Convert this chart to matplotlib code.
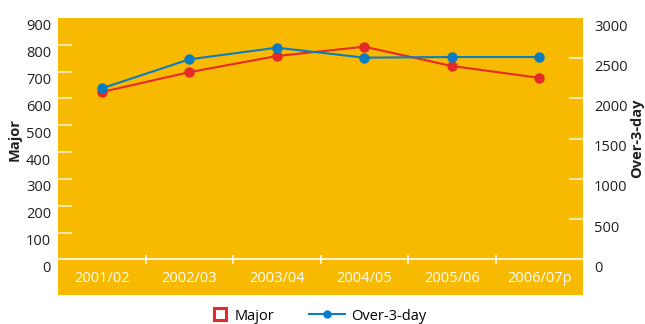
import matplotlib
matplotlib.use("Agg")
import matplotlib.pyplot as plt
from matplotlib.transforms import ScaledTranslation
from matplotlib.lines import Line2D

# Reporting years and injury counts
years = ["2001/02", "2002/03", "2003/04", "2004/05", "2005/06", "2006/07p"]
major = [624, 698, 758, 793, 721, 677]
over3day = [2125, 2486, 2631, 2507, 2515, 2515]

left_ticks = list(range(0, 1000, 100))
right_ticks = list(range(0, 3500, 500))

ORANGE = "#F8BA00"
RED = "#E52A2A"
BLUE = "#0A7CC1"
INK = "#231F20"
FS = 10.5

plt.rcParams["font.family"] = ["Open Sans", "DejaVu Sans"]

fig = plt.figure(figsize=(6.45, 3.24), dpi=100)
ax = fig.add_axes([58 / 645, 1 - 295 / 324, 525 / 645, 277 / 324])
ax.set_facecolor(ORANGE)
ax2 = ax.twinx()

LOW = -133
ax.set_ylim(LOW, 900)
ax2.set_ylim(LOW * 3000 / 900, 3000)
ax.set_xlim(-0.5, len(years) - 0.5)

for a in (ax, ax2):
    for s in a.spines.values():
        s.set_visible(False)
    a.yaxis.remove_overlapping_locs = False

# left axis ticks: labels on hundreds, short white marks inside
ax.set_yticks(left_ticks)
ax.set_yticklabels([str(v) for v in left_ticks])
ax.set_yticks(left_ticks[1:-1], minor=True)
ax.tick_params(axis="y", which="major", length=0, labelsize=FS, pad=5, colors=INK)
ax.tick_params(axis="y", which="minor", direction="in", length=10, width=1.2, color="#FFF3C0")

ax2.set_yticks(right_ticks)
ax2.set_yticklabels([str(v) for v in right_ticks])
ax2.set_yticks(right_ticks[1:-1], minor=True)
ax2.tick_params(axis="y", which="major", length=0, labelsize=FS, pad=8, colors=INK)
ax2.tick_params(axis="y", which="minor", direction="in", length=10, width=1.2, color="#FFF3C0")

shift = ScaledTranslation(0, -0.07, fig.dpi_scale_trans)
for lab in ax.get_yticklabels() + ax2.get_yticklabels():
    lab.set_transform(lab.get_transform() + shift)

# category axis drawn inside the plot area
ax.set_xticks([])
ax.axhline(0, color="white", lw=1.2, zorder=1)
ax.vlines([i + 0.5 for i in range(len(years) - 1)], -18, 18, color="white", lw=1.2, zorder=1)
for i, y in enumerate(years):
    ax.text(i, -71, y, color="white", ha="center", va="center", fontsize=FS)

x = list(range(len(years)))
ax.plot(x, major, color=RED, lw=1.5, marker="o", ms=6.5, zorder=3)
ax2.plot(x, over3day, color=BLUE, lw=1.5, marker="o", ms=6.5, zorder=3)

ax.set_zorder(2)
ax2.set_zorder(3)

fig.text(15 / 645, 1 - 140 / 324, "Major", rotation=90, ha="center", va="center",
         fontsize=FS, fontweight="bold", color=INK)
fig.text(637 / 645, 1 - 138 / 324, "Over-3-day", rotation=90, ha="center", va="center",
         fontsize=FS, fontweight="bold", color=INK)

# legend entries, each with its own handle length
ly = 1 - 316 / 324
h_major = Line2D([], [], color=RED, marker="s", ms=8.5, mfc="white", mec=RED, mew=2.2, ls="none")
h_o3 = Line2D([], [], color=BLUE, marker="o", ms=5, lw=1.5)
leg1 = fig.legend([h_major], ["Major"], loc="center left", frameon=False,
                  bbox_to_anchor=(211 / 645, ly), fontsize=FS, borderpad=0,
                  borderaxespad=0, handlelength=1.2, handletextpad=0.4)
fig.legend([h_o3], ["Over-3-day"], loc="center left", frameon=False,
           bbox_to_anchor=(309 / 645, ly), fontsize=FS, borderpad=0,
           borderaxespad=0, handlelength=2.5, handletextpad=0.4)

fig.savefig("out.png", dpi=100, facecolor="white")
